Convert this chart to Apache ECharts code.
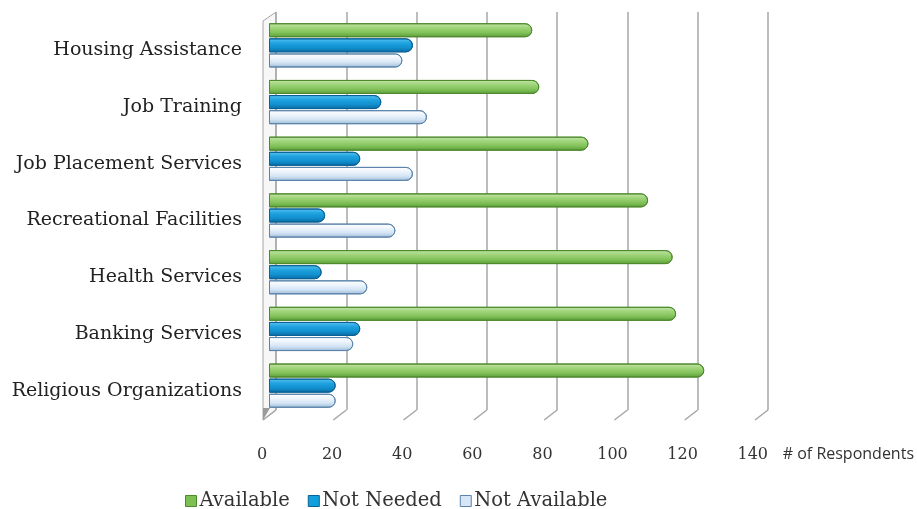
<!DOCTYPE html>
<html><head><meta charset="utf-8">
<script src="https://cdn.jsdelivr.net/npm/echarts@6/dist/echarts.min.js"></script>
<style>html,body{margin:0;padding:0;background:#fff}#c{width:917px;height:509px}</style>
</head><body><div id="c"></div>
<script>
const categories = ['Housing Assistance','Job Training','Job Placement Services','Recreational Facilities','Health Services','Banking Services','Religious Organizations'];
const available = [75, 77, 91, 108, 115, 116, 124];
const notNeeded = [41, 32, 26, 16, 15, 26, 19];
const notAvailable = [38, 45, 41, 36, 28, 24, 19];
const seriesNames = ['Available','Not Needed','Not Available'];
const xMin = 0, xMax = 140, xStep = 20;

const serif = 'DejaVu Serif';
function grad(stops){
  return {type:'linear',x:0,y:0,x2:0,y2:1,colorStops:stops.map((c,i)=>({offset:i/(stops.length-1),color:c}))};
}
const styles = [
  {color: grad(['#c4e6a8','#9fd47a','#82c25a','#5b9c3a']), borderColor:'#4d8a2e', legend:'#7cc052'},
  {color: grad(['#5cc3f0','#1fa3e0','#1290cf','#0a6aa3']), borderColor:'#0a6196', legend:'#12a0dc'},
  {color: grad(['#ffffff','#eef5fc','#d3e4f4','#9db9d6']), borderColor:'#5c84ab', legend:'#d6e6f6'}
];
const dataSets = [available, notNeeded, notAvailable];

const chart = echarts.init(document.getElementById('c'));
const option = {
  animation:false,
  backgroundColor:'#fff',
  grid:[
    {left:269, width:491.4, top:17, height:397},   // bars
    {left:262, width:492, top:22, height:397},     // labels (front plane)
    {left:276, width:492, top:12, bottom:99}       // back wall gridlines
  ],
  xAxis:[
    {gridIndex:0, type:'value', min:xMin, max:xMax, interval:xStep, show:false},
    {gridIndex:1, type:'value', min:xMin, max:xMax, interval:xStep,
     axisLine:{show:false}, axisTick:{show:false}, splitLine:{show:false},
     axisLabel:{margin:28, color:'#333', fontFamily:serif, fontSize:16},
     name:'# of Respondents', nameLocation:'end', nameGap:30,
     nameTextStyle:{fontFamily:'Open Sans', fontSize:16, color:'#333', align:'left', verticalAlign:'top', padding:[27,0,0,0]}},
    {gridIndex:2, type:'value', min:xMin, max:xMax, interval:xStep,
     axisLine:{show:false}, axisTick:{show:false}, axisLabel:{show:false},
     splitLine:{show:true, lineStyle:{color:'#a6a6a6', width:1.5}}}
  ],
  yAxis:[
    {gridIndex:0, type:'category', data:categories, inverse:true, show:false},
    {gridIndex:1, type:'category', data:categories, inverse:true,
     axisLine:{show:false}, axisTick:{show:false},
     axisLabel:{margin:20, color:'#222', fontFamily:serif, fontSize:19}},
    {gridIndex:2, type:'category', data:categories, inverse:true, show:false}
  ],
  legend:{
    left:180, top:486, itemWidth:11, itemHeight:11, itemGap:18, icon:'rect',
    textStyle:{fontFamily:serif, fontSize:19.5, color:'#333', padding:[0,0,0,-2]},
    data: seriesNames.map((n,i)=>({name:n, itemStyle:{color:styles[i].legend, borderColor:styles[i].borderColor, borderWidth:1}}))
  },
  series: seriesNames.map((n,i)=>({
    name:n, type:'bar', xAxisIndex:0, yAxisIndex:0, data:dataSets[i],
    barWidth:14, barGap:'8%',
    itemStyle:{color:styles[i].color, borderColor:styles[i].borderColor, borderWidth:1, borderRadius:[0,7,7,0]}
  }))
};
chart.setOption(option);

// 3D floor/wall decoration derived from the gridline axis
const g = [];
const gr = chart.getModel().getComponent('grid',2).coordinateSystem.getRect();
for (let v = xMin; v <= xMax; v += xStep) {
  const x = chart.convertToPixel({xAxisIndex:2}, v);
  g.push({type:'line', shape:{x1:x, y1:gr.y+gr.height, x2:x-13, y2:gr.y+gr.height+10}, style:{stroke:'#a6a6a6', lineWidth:1.5}, silent:true});
}
const x0 = chart.convertToPixel({xAxisIndex:2}, 0);
g.push({type:'polygon', shape:{points:[[x0-13,gr.y+9],[x0,gr.y],[x0,gr.y+gr.height],[x0-13,gr.y+gr.height+10]]}, style:{fill:'rgba(200,200,200,0.15)', stroke:'#a6a6a6', lineWidth:1}, z:-1, silent:true});
g.push({type:'polygon', shape:{points:[[x0-13,gr.y+gr.height-2],[x0-6,gr.y+gr.height-2],[x0-13,gr.y+gr.height+10]]}, style:{fill:'#9a9a9a'}, silent:true});
chart.setOption({graphic:g});
</script></body></html>
